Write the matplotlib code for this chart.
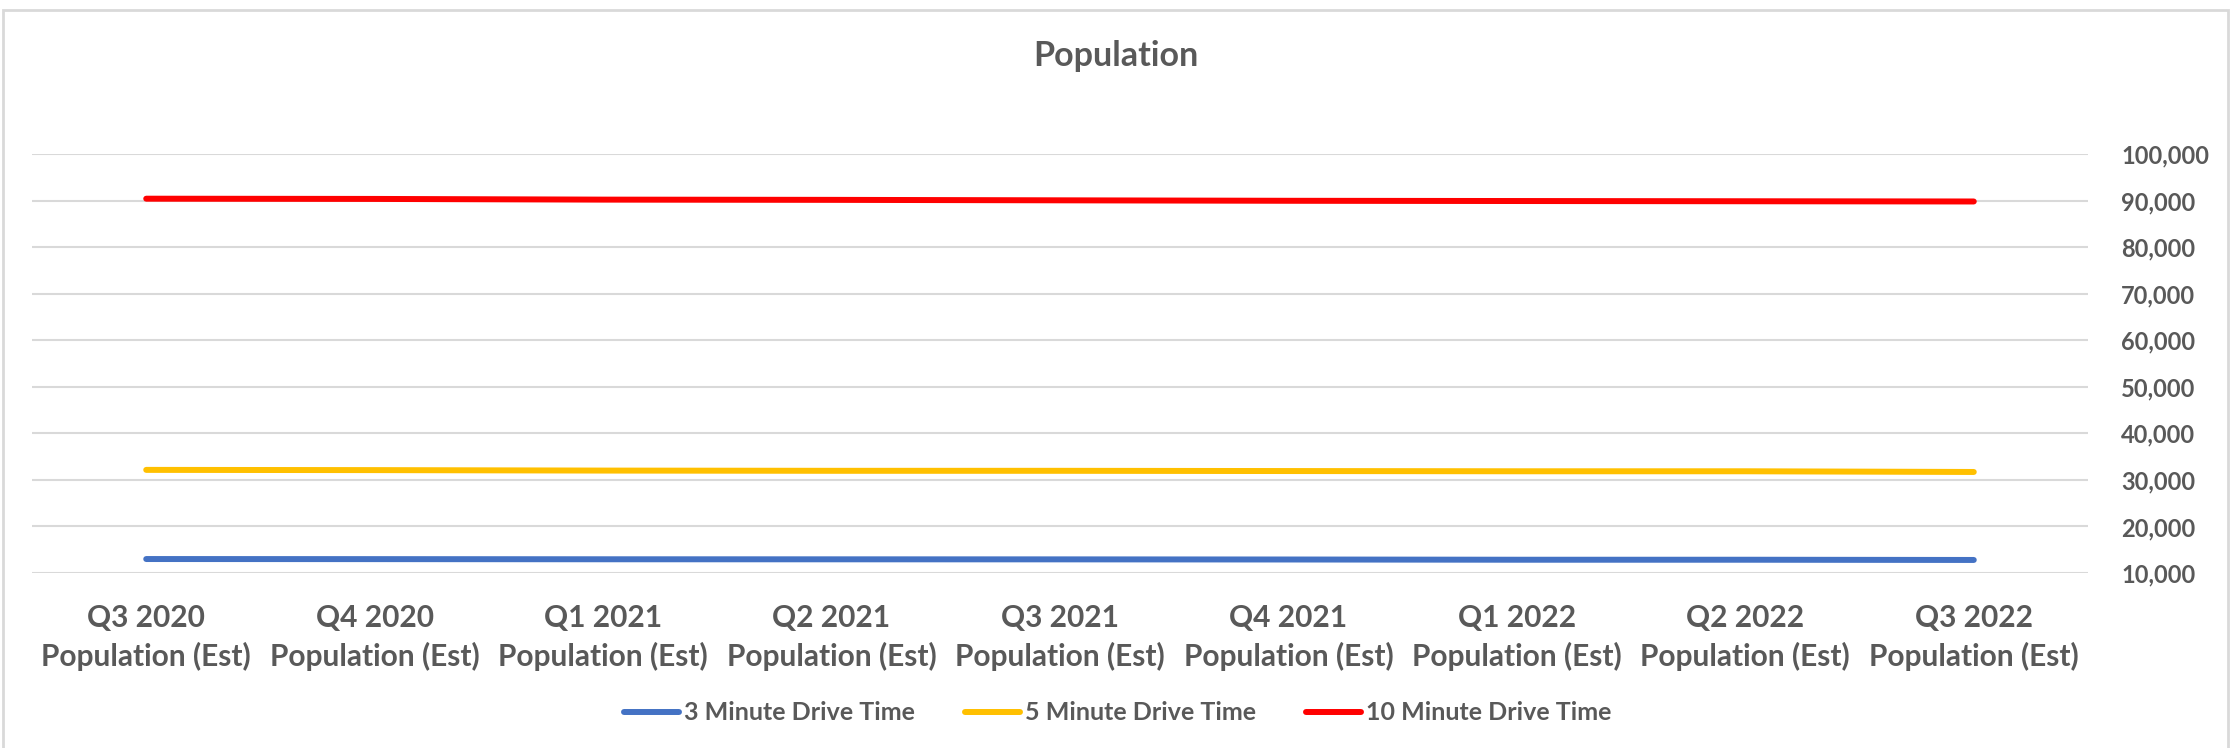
import matplotlib.pyplot as plt
from matplotlib.patches import Rectangle
from matplotlib.ticker import FuncFormatter

plt.rcParams['font.family'] = ['Lato', 'DejaVu Sans']
plt.rcParams['font.weight'] = 'bold'

# --- data ---
quarters = ["Q3 2020", "Q4 2020", "Q1 2021", "Q2 2021", "Q3 2021",
            "Q4 2021", "Q1 2022", "Q2 2022", "Q3 2022"]
tick_labels = [q + "\nPopulation (Est)" for q in quarters]

drive_3min = [13000, 12980, 12950, 12940, 12930, 12900, 12850, 12850, 12800]
drive_5min = [32150, 32100, 32000, 31950, 31950, 31900, 31850, 31850, 31700]
drive_10min = [90400, 90350, 90200, 90150, 90050, 89950, 89900, 89850, 89800]

series = [
    ("3 Minute Drive Time", drive_3min, "#4472C4"),
    ("5 Minute Drive Time", drive_5min, "#FFC000"),
    ("10 Minute Drive Time", drive_10min, "#FF0000"),
]

text_col = "#595959"
grid_col = "#D9D9D9"

fig = plt.figure(figsize=(22.35, 7.48), dpi=100)
ax = fig.add_axes([32 / 2235, 1 - 573 / 748, 2056 / 2235, 419 / 748])

x = list(range(len(quarters)))
for name, vals, col in series:
    ax.plot(x, vals, color=col, linewidth=4.3, solid_capstyle="round", label=name, zorder=3)

ax.set_xlim(-0.5, len(quarters) - 0.5)
ax.set_ylim(10000, 100000)
ax.set_yticks(range(10000, 100001, 10000))
ax.yaxis.set_major_formatter(FuncFormatter(lambda v, p: f"{int(v):,}"))
ax.yaxis.tick_right()
ax.tick_params(axis="y", length=0, pad=24, labelsize=17, labelcolor=text_col)
ax.set_xticks(x)
ax.set_xticklabels(tick_labels, linespacing=1.42)
ax.tick_params(axis="x", length=0, pad=22, labelsize=21.5, labelcolor=text_col)
for lbl in ax.get_yticklabels():
    lbl.set_horizontalalignment("left")

ax.grid(axis="y", color=grid_col, linewidth=1.5, zorder=1)
for s in ax.spines.values():
    s.set_visible(False)

fig.text(1116 / 2235, 1 - 66 / 748, "Population", ha="center", va="baseline",
         fontsize=24.5, fontweight="bold", color=text_col)

leg = fig.legend(loc="center", bbox_to_anchor=(0.5, 1 - 713 / 748), ncol=3,
                 frameon=False, fontsize=18, handlelength=2.2, handletextpad=0.2,
                 columnspacing=2.0)
for t in leg.get_texts():
    t.set_color(text_col)

# chart frame
fig.patches.append(Rectangle((3 / 2235, -0.05), 2225 / 2235, 1.05 - 10 / 748,
                             transform=fig.transFigure, fill=False,
                             edgecolor=grid_col, linewidth=2))

fig.savefig("out.png", dpi=100)
